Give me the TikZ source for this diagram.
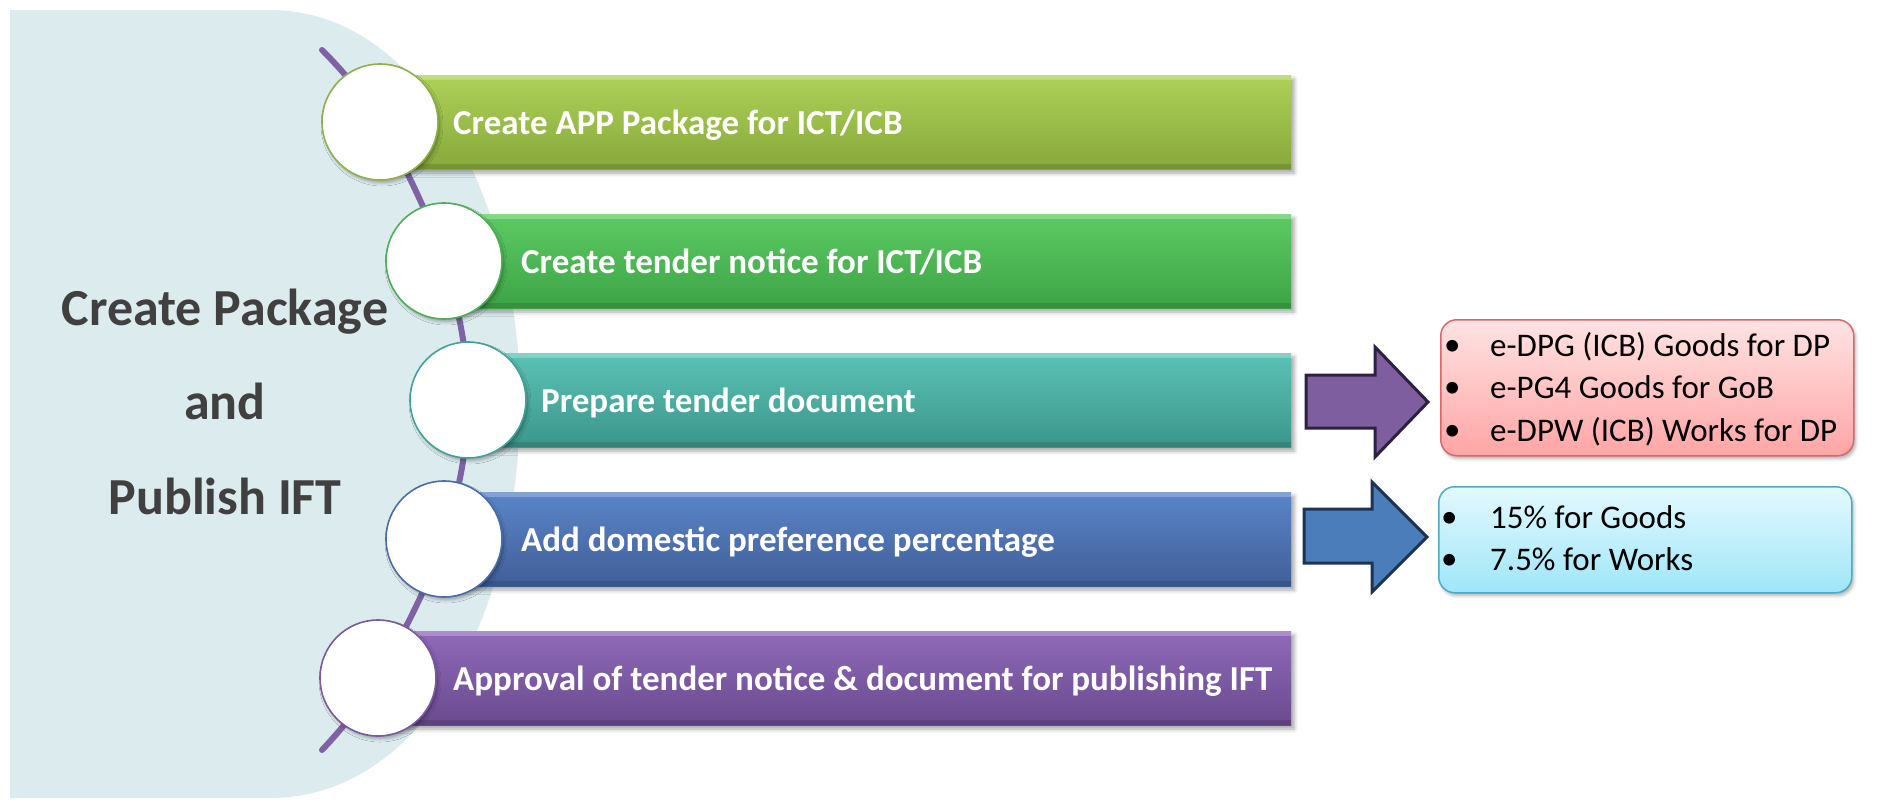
\documentclass[tikz,border=0pt]{standalone}
\usepackage{fontspec}
\setmainfont{Carlito}
\usetikzlibrary{shadows.blur}
\definecolor{bgc}{HTML}{DCEBEE}
\definecolor{linec}{HTML}{7F62A5}
\definecolor{titlec}{HTML}{404040}
\definecolor{baAt}{HTML}{AED158}\definecolor{baAb}{HTML}{87A83B}\definecolor{baAd}{HTML}{8FB04A}
\definecolor{baBt}{HTML}{5CCB63}\definecolor{baBb}{HTML}{3DA346}\definecolor{baBd}{HTML}{4DAF55}
\definecolor{baCt}{HTML}{5BC2B5}\definecolor{baCb}{HTML}{3B968B}\definecolor{baCd}{HTML}{3FA396}
\definecolor{baDt}{HTML}{5B85C8}\definecolor{baDb}{HTML}{405F98}\definecolor{baDd}{HTML}{4A6DAA}
\definecolor{baEt}{HTML}{8F6AB9}\definecolor{baEb}{HTML}{6A4A8F}\definecolor{baEd}{HTML}{7A5A9E}
\definecolor{arAf}{HTML}{7E5E9E}\definecolor{arAd}{HTML}{2E2140}
\definecolor{arBf}{HTML}{4A7DBA}\definecolor{arBd}{HTML}{1E3352}
\definecolor{rbt}{HTML}{FFE3E3}\definecolor{rbb}{HTML}{FFA5A5}\definecolor{rbd}{HTML}{D9676B}
\definecolor{bbt}{HTML}{E3F9FE}\definecolor{bbb}{HTML}{9FE6F8}\definecolor{bbd}{HTML}{4BACC6}
\tikzset{
  barbox/.style={rectangle, anchor=west, minimum height=94pt, inner sep=0pt,
    blur shadow={shadow xshift=3pt, shadow yshift=-4pt, shadow blur radius=4pt, shadow opacity=35}},
  bartext/.style={anchor=base west, inner sep=0pt, text=white,
    font=\fontsize{35}{40}\selectfont\bfseries},
  circnode/.style={circle, fill=white, minimum size=116pt, inner sep=0pt, line width=1.6pt,
    blur shadow={shadow xshift=2pt, shadow yshift=-3pt, shadow blur radius=3pt, shadow opacity=30}},
  titletext/.style={anchor=base, inner sep=0pt, text=titlec,
    font=\fontsize{52}{60}\selectfont\bfseries},
  listbox/.style={rectangle, rounded corners=16pt, anchor=north west, line width=1.5pt, inner sep=0pt,
    blur shadow={shadow xshift=2pt, shadow yshift=-3pt, shadow blur radius=3pt, shadow opacity=30}},
  listtext/.style={anchor=base west, inner sep=0pt, font=\fontsize{33}{40}\selectfont},
  blockarrow/.style={line width=3pt, line join=miter}
}
\begin{document}
\begin{tikzpicture}[x=1pt,y=-1pt]
\useasboundingbox (0,0) rectangle (1891,801);
% background
\fill[bgc] (10,10) -- (270,10) .. controls (420,10) and (520,200) .. (520,400)
  .. controls (520,620) and (420,798) .. (270,798) -- (10,798) -- cycle;
% title
\node[titletext] (ttl1) at (225,325) {Create Package};
\node[titletext] (ttl2) at (225,419) {and};
\node[titletext] (ttl3) at (225,514) {Publish IFT};
% centre points of circles
\coordinate (p1) at (380,122);
\coordinate (p2) at (444,261);
\coordinate (p3) at (468,400);
\coordinate (p4) at (444,539);
\coordinate (p5) at (378,678);
\coordinate (ltop) at (322,50);
\coordinate (lbot) at (322,750);
% purple line
\draw[linec, line width=6pt, line cap=round] plot[smooth, tension=0.6] coordinates {(ltop) (p1) (p2) (p3) (p4) (p5) (lbot)};
% bars
\node[barbox, minimum width=911pt, top color=baAt, bottom color=baAb] (b1) at (p1) {};
\node[barbox, minimum width=847pt, top color=baBt, bottom color=baBb] (b2) at (p2) {};
\node[barbox, minimum width=823pt, top color=baCt, bottom color=baCb] (b3) at (p3) {};
\node[barbox, minimum width=847pt, top color=baDt, bottom color=baDb] (b4) at (p4) {};
\node[barbox, minimum width=913pt, top color=baEt, bottom color=baEb] (b5) at (p5) {};
% bar highlights
\foreach \b in {b1,b2,b3,b4,b5}{
  \fill[white, opacity=0.25] (\b.north west) rectangle ([yshift=-5pt]\b.north east);
  \fill[black, opacity=0.12] ([yshift=5pt]\b.south west) rectangle (\b.south east);
}
% circles
\node[circnode, draw=baAd] (c1) at (p1) {};
\node[circnode, draw=baBd] (c2) at (p2) {};
\node[circnode, draw=baCd] (c3) at (p3) {};
\node[circnode, draw=baDd] (c4) at (p4) {};
\node[circnode, draw=baEd] (c5) at (p5) {};
% bar texts
\node[bartext] (t1) at (453,134) {Create APP Package for ICT/ICB};
\node[bartext] (t2) at (521,273) {Create tender notice for ICT/ICB};
\node[bartext] (t3) at (541,412) {Prepare tender document};
\node[bartext] (t4) at (521,551) {Add domestic preference percentage};
\node[bartext] (t5) at (453,690) {Approval of tender notice \& document for publishing IFT};
% block arrows
\filldraw[blockarrow, fill=arAf, draw=arAd] (1306,375) -- (1375,375) -- (1375,347) -- (1428,402)
  -- (1375,457) -- (1375,428) -- (1306,428) -- cycle;
\filldraw[blockarrow, fill=arBf, draw=arBd] (1304,509) -- (1372,509) -- (1372,482) -- (1427,537)
  -- (1372,592) -- (1372,563) -- (1304,563) -- cycle;
% list boxes
\node[listbox, minimum width=413pt, minimum height=136pt, top color=rbt, bottom color=rbb, draw=rbd] (rb) at (1440,319) {};
\node[listbox, minimum width=413pt, minimum height=106pt, top color=bbt, bottom color=bbb, draw=bbd] (bb) at (1438,486) {};
% list texts
\node[listtext] (r1b) at (1444,355) {\textbullet};
\node[listtext] (r1) at (1490,356) {e-DPG (ICB) Goods for DP};
\node[listtext] (r2b) at (1444,397) {\textbullet};
\node[listtext] (r2) at (1490,398) {e-PG4 Goods for GoB};
\node[listtext] (r3b) at (1444,440) {\textbullet};
\node[listtext] (r3) at (1490,441) {e-DPW (ICB) Works for DP};
\node[listtext] (l1b) at (1441,527) {\textbullet};
\node[listtext] (l1) at (1490,528) {15\% for Goods};
\node[listtext] (l2b) at (1441,569) {\textbullet};
\node[listtext] (l2) at (1490,570) {7.5\% for Works};
\end{tikzpicture}
\end{document}
